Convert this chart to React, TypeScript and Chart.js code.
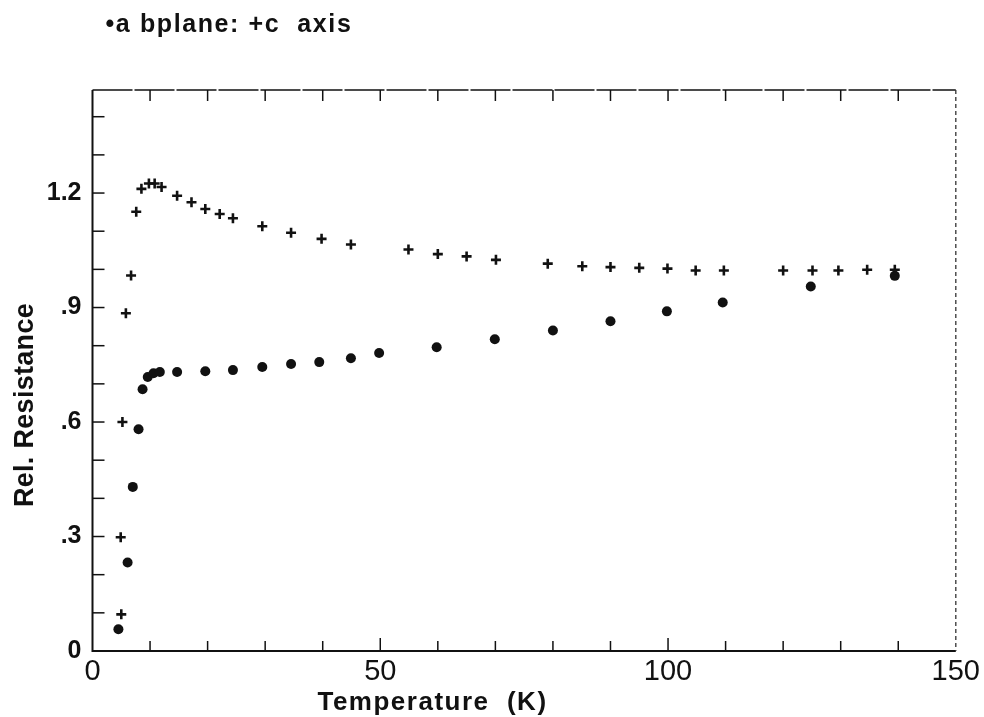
import { useEffect, useRef } from 'react';
import { Chart, registerables } from 'chart.js';

Chart.register(...registerables);

// ab-plane (filled circles)
const abTemps = [4.5, 6.1, 7.0, 8.0, 8.7, 9.6, 10.6, 11.7, 14.7, 19.6, 24.4, 29.5, 34.5, 39.4, 44.9, 49.8, 59.8, 69.9, 80.0, 90.0, 99.8, 109.5, 124.8, 139.4];
const abRes = [0.057, 0.232, 0.43, 0.581, 0.686, 0.718, 0.728, 0.731, 0.731, 0.733, 0.736, 0.744, 0.752, 0.757, 0.767, 0.781, 0.796, 0.817, 0.84, 0.864, 0.89, 0.913, 0.955, 0.983];

// c axis (crosses)
const cTemps = [4.9, 5.0, 5.2, 5.8, 6.7, 7.6, 8.5, 9.8, 10.8, 12.0, 14.7, 17.2, 19.6, 22.1, 24.4, 29.5, 34.5, 39.8, 44.9, 54.9, 60.0, 65.0, 70.1, 79.1, 85.1, 90.0, 95.0, 99.9, 104.8, 109.7, 120.0, 125.1, 129.6, 134.6, 139.4];
const cRes = [0.298, 0.096, 0.6, 0.885, 0.984, 1.151, 1.211, 1.225, 1.225, 1.216, 1.193, 1.176, 1.158, 1.145, 1.134, 1.113, 1.096, 1.08, 1.065, 1.052, 1.04, 1.034, 1.025, 1.015, 1.008, 1.006, 1.004, 1.002, 0.997, 0.997, 0.997, 0.997, 0.997, 0.999, 0.999];

const xMin = 0;
const xMax = 150;
const xLabelStep = 50;
const xMinorTicks = [10, 20, 30, 40, 50, 60, 70, 80, 90, 100, 110, 120, 130, 140];
const yMin = 0;
const yMax = 1.47;
const yLabelValues = [0, 0.3, 0.6, 0.9, 1.2];
const yMinorTicks = [0.1, 0.2, 0.3, 0.4, 0.5, 0.6, 0.7, 0.8, 0.9, 1.0, 1.1, 1.2, 1.3, 1.4];

const legendText = '\u2022a bplane: +c  axis';
const xTitle = 'Temperature  (K)';
const yTitle = 'Rel. Resistance';

const INK = '#111111';

const framePlugin = {
  id: 'frameTicks',
  beforeDatasetsDraw(chart: any) {
    const { ctx, chartArea, scales } = chart;
    const { left, right, top, bottom } = chartArea;
    const xs = scales.x;
    const ys = scales.y;
    ctx.save();
    ctx.strokeStyle = INK;
    ctx.lineCap = 'butt';
    // left + bottom solid
    ctx.lineWidth = 2;
    ctx.beginPath();
    ctx.moveTo(left, top);
    ctx.lineTo(left, bottom);
    ctx.lineTo(right, bottom);
    ctx.stroke();
    // top
    ctx.lineWidth = 1.6;
    ctx.setLineDash([40, 2]);
    ctx.beginPath();
    ctx.moveTo(left, top);
    ctx.lineTo(right, top);
    ctx.stroke();
    // right dashed
    ctx.strokeStyle = '#333';
    ctx.lineWidth = 1.3;
    ctx.setLineDash([4, 3]);
    ctx.beginPath();
    ctx.moveTo(right, top);
    ctx.lineTo(right, bottom);
    ctx.stroke();
    ctx.setLineDash([]);
    ctx.strokeStyle = INK;
    ctx.lineWidth = 1.5;
    // left ticks
    yMinorTicks.forEach((v) => {
      const py = ys.getPixelForValue(v);
      ctx.beginPath();
      ctx.moveTo(left, py);
      ctx.lineTo(left + 12, py);
      ctx.stroke();
    });
    // bottom and top ticks
    xMinorTicks.forEach((v) => {
      const px = xs.getPixelForValue(v);
      const len = v % 50 === 0 ? 13 : 10;
      ctx.beginPath();
      ctx.moveTo(px, bottom);
      ctx.lineTo(px, bottom - len);
      ctx.stroke();
      ctx.beginPath();
      ctx.moveTo(px, top);
      ctx.lineTo(px, top + 11);
      ctx.stroke();
    });
    ctx.restore();
  },
  afterDraw(chart: any) {
    const { ctx, chartArea } = chart;
    const { left, bottom } = chartArea;
    ctx.save();
    ctx.fillStyle = INK;
    // legend line at top
    ctx.font = 'bold 25px "Liberation Sans", Arial, sans-serif';
    ctx.textAlign = 'left';
    ctx.textBaseline = 'middle';
    (ctx as any).letterSpacing = '1.6px';
    ctx.fillText(legendText, left + 13, 25);
    // x title
    ctx.font = 'bold 26px "Liberation Sans", Arial, sans-serif';
    (ctx as any).letterSpacing = '1.5px';
    ctx.textAlign = 'center';
    ctx.fillText(xTitle, left + 340, bottom + 52);
    // y title
    (ctx as any).letterSpacing = '0.3px';
    ctx.font = 'bold 27px "Liberation Sans", Arial, sans-serif';
    ctx.translate(26, 405);
    ctx.rotate(-Math.PI / 2);
    ctx.textAlign = 'center';
    ctx.textBaseline = 'middle';
    ctx.fillText(yTitle, 0, 0);
    ctx.restore();
  },
};

function fmtY(v: number): string {
  if (Math.abs(v) < 1e-9) return '0';
  const s = v.toFixed(1);
  return s.startsWith('0.') ? s.slice(1) : s;
}

export default function App() {
  const ref = useRef<HTMLCanvasElement | null>(null);
  useEffect(() => {
    if (!ref.current) return;
    const chart = new Chart(ref.current, {
      type: 'scatter',
      data: {
        datasets: [
          {
            label: 'c axis',
            data: cTemps.map((t, i) => ({ x: t, y: cRes[i] })),
            pointStyle: 'cross',
            pointRadius: 5,
            borderWidth: 2.6,
            borderColor: INK,
            backgroundColor: INK,
          },
          {
            label: 'a b plane',
            data: abTemps.map((t, i) => ({ x: t, y: abRes[i] })),
            pointStyle: 'circle',
            pointRadius: 5,
            borderWidth: 0,
            backgroundColor: INK,
            borderColor: INK,
          },
        ],
      },
      options: {
        animation: false,
        responsive: false,
        events: [],
        layout: { padding: { left: 0, right: 26, top: 90, bottom: 0 } },
        plugins: {
          legend: { display: false },
          tooltip: { enabled: false },
          title: { display: false },
        },
        scales: {
          x: {
            type: 'linear',
            min: xMin,
            max: xMax,
            border: { display: false },
            grid: { display: false, drawTicks: false },
            ticks: {
              stepSize: xLabelStep,
              padding: 4,
              color: INK,
              font: { family: '"Liberation Sans", Arial, sans-serif', size: 29 },
              callback: (v: any) => String(v),
            },
            afterFit: (s: any) => {
              s.height = 66;
            },
          },
          y: {
            type: 'linear',
            min: yMin,
            max: yMax,
            border: { display: false },
            grid: { display: false, drawTicks: false },
            afterBuildTicks: (s: any) => {
              s.ticks = yLabelValues.map((v) => ({ value: v }));
            },
            ticks: {
              padding: 11,
              color: INK,
              font: { family: '"Liberation Sans", Arial, sans-serif', size: 25, weight: 'bold' },
              callback: (v: any) => fmtY(Number(v)),
            },
            afterFit: (s: any) => {
              s.width = 92.5;
            },
          },
        },
      },
      plugins: [framePlugin],
    });
    return () => chart.destroy();
  }, []);
  return (
    <div style={{ position: 'absolute', left: 0, top: 0, width: 984, height: 717, background: '#fff' }}>
      <canvas ref={ref} width={984} height={717} style={{ display: 'block' }} />
    </div>
  );
}
